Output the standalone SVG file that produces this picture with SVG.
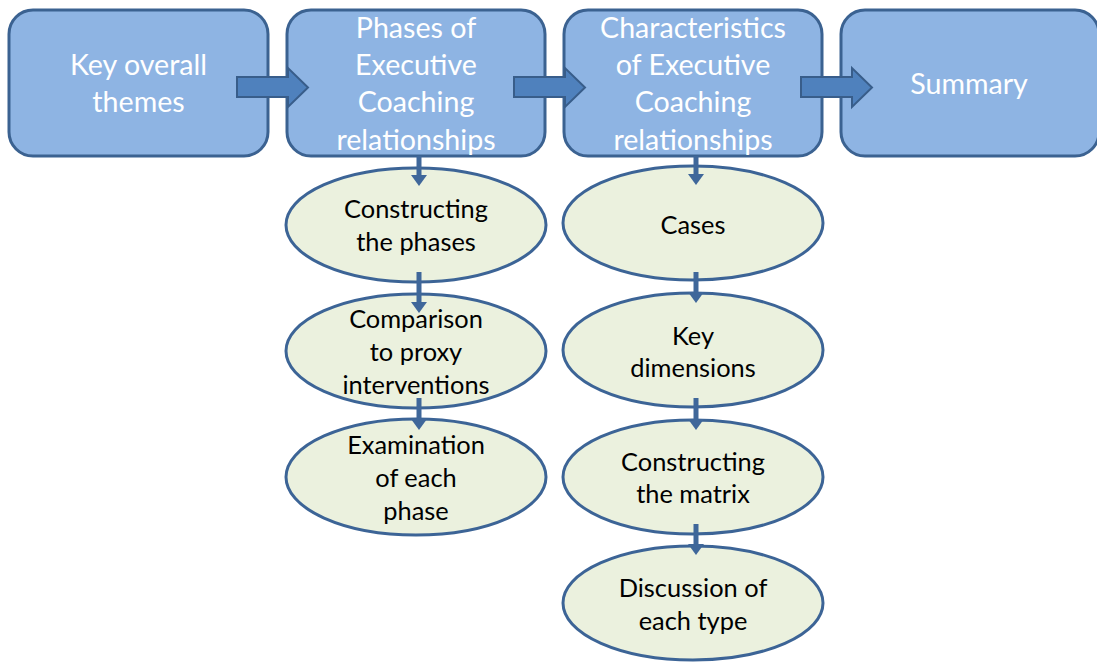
<svg xmlns="http://www.w3.org/2000/svg" width="1097" height="663" viewBox="0 0 1097 663">
<defs>
<style>
.box{fill:#8EB4E3;stroke:#3B6291;stroke-width:3}
.ell{fill:#EBF1DE;stroke:#3C6496;stroke-width:3}
.bt{font-family:"Lato","Open Sans",sans-serif;font-size:28.6px;fill:#FFFFFF;text-anchor:middle}
.et{font-family:"Lato","Open Sans",sans-serif;font-size:25.4px;fill:#000000;text-anchor:middle}
.block{fill:#4F81BD;stroke:#385D8A;stroke-width:2}
.conn{stroke:#3F679A;stroke-width:5;fill:none}
</style>
<marker id="ah" markerUnits="userSpaceOnUse" markerWidth="11" markerHeight="16" refX="1" refY="8" orient="auto">
<path d="M0,0 L11,8 L0,16 z" fill="#3F679A"/>
</marker>
</defs>
<rect width="1097" height="663" fill="#FFFFFF"/>
<g id="n-key">
<rect class="box" x="9" y="10" width="259" height="146" rx="24"/>
<text class="bt" x="138.5" y="75">Key overall</text>
<text class="bt" x="138.5" y="112">themes</text>
</g>
<g id="n-phases">
<rect class="box" x="287" y="10" width="258" height="146" rx="24"/>
<text class="bt" x="416" y="38">Phases of</text>
<text class="bt" x="416" y="75">Executive</text>
<text class="bt" x="416" y="112">Coaching</text>
<text class="bt" x="416" y="150">relationships</text>
</g>
<g id="n-char">
<rect class="box" x="564" y="10" width="258" height="146" rx="24"/>
<text class="bt" x="693" y="38">Characteristics</text>
<text class="bt" x="693" y="75">of Executive</text>
<text class="bt" x="693" y="112">Coaching</text>
<text class="bt" x="693" y="150">relationships</text>
</g>
<g id="n-summary">
<rect class="box" x="841" y="10" width="258" height="146" rx="24"/>
<text class="bt" x="969" y="94">Summary</text>
</g>
<g id="n-construct-phases">
<ellipse class="ell" cx="416" cy="225" rx="130" ry="57"/>
<text class="et" x="416" y="218">Constructing</text>
<text class="et" x="416" y="251">the phases</text>
</g>
<g id="n-comparison">
<ellipse class="ell" cx="416" cy="351" rx="130" ry="57"/>
<text class="et" x="416" y="328">Comparison</text>
<text class="et" x="416" y="361">to proxy</text>
<text class="et" x="416" y="394">interventions</text>
</g>
<g id="n-examination">
<ellipse class="ell" cx="416" cy="477" rx="130" ry="58"/>
<text class="et" x="416" y="454">Examination</text>
<text class="et" x="416" y="487">of each</text>
<text class="et" x="416" y="520">phase</text>
</g>
<g id="n-cases">
<ellipse class="ell" cx="693" cy="223" rx="130" ry="57"/>
<text class="et" x="693" y="234">Cases</text>
</g>
<g id="n-dimensions">
<ellipse class="ell" cx="693" cy="350" rx="130" ry="57"/>
<text class="et" x="693" y="345">Key</text>
<text class="et" x="693" y="377">dimensions</text>
</g>
<g id="n-matrix">
<ellipse class="ell" cx="693" cy="477" rx="130" ry="57"/>
<text class="et" x="693" y="471">Constructing</text>
<text class="et" x="693" y="503">the matrix</text>
</g>
<g id="n-discussion">
<ellipse class="ell" cx="693" cy="603" rx="130" ry="57"/>
<text class="et" x="693" y="597">Discussion of</text>
<text class="et" x="693" y="630">each type</text>
</g>
<g id="connectors">
<path class="block" d="M237,77 L288,77 L288,68 L308,87.5 L288,107 L288,97 L237,97 Z"/>
<path class="block" d="M514,77 L565,77 L565,68 L585,87.5 L565,107 L565,97 L514,97 Z"/>
<path class="block" d="M801,77 L852,77 L852,68 L872,87.5 L852,107 L852,97 L801,97 Z"/>
<line class="conn" x1="419" y1="156" x2="419" y2="176" marker-end="url(#ah)"/>
<line class="conn" x1="419" y1="272" x2="419" y2="303" marker-end="url(#ah)"/>
<line class="conn" x1="419" y1="398" x2="419" y2="420" marker-end="url(#ah)"/>
<line class="conn" x1="696" y1="156" x2="696" y2="175" marker-end="url(#ah)"/>
<line class="conn" x1="696" y1="272" x2="696" y2="293" marker-end="url(#ah)"/>
<line class="conn" x1="696" y1="398" x2="696" y2="420" marker-end="url(#ah)"/>
<line class="conn" x1="696" y1="524" x2="696" y2="545" marker-end="url(#ah)"/>
</g>
</svg>
